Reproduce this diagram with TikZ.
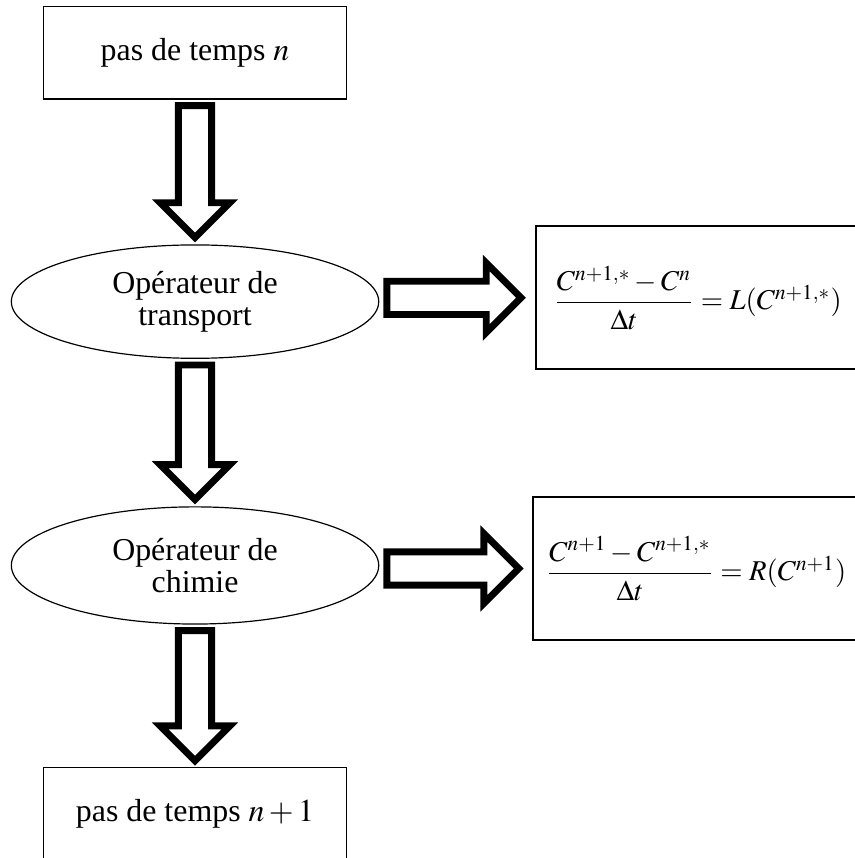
\documentclass[tikz,border=0pt]{standalone}
\usepackage{amsmath}
\usepackage{mathptmx}
\usepackage{fontspec}
\setmainfont{Liberation Serif}
\usepackage{tikz}
\usetikzlibrary{calc,shapes.geometric}

% hollow block arrow from tail #1 to tip #2
\newcommand{\hollowarrow}[2]{%
  \path (#1) coordinate (ha-s) (#2) coordinate (ha-t)
    ($(ha-t)!0.46cm!(ha-s)$) coordinate (ha-h);
  \draw[hollow] ($(ha-s)!0.22cm!90:(ha-t)$) -- ($(ha-h)!0.22cm!90:(ha-t)$)
    -- ($(ha-h)!0.46cm!90:(ha-t)$) -- (ha-t) -- ($(ha-h)!0.46cm!-90:(ha-t)$)
    -- ($(ha-h)!0.22cm!-90:(ha-t)$) -- ($(ha-s)!0.22cm!-90:(ha-t)$) -- cycle;
}

\begin{document}
\begin{tikzpicture}[font=\fontsize{12}{12}\selectfont,
  box/.style={draw,line width=0.4pt,inner sep=0pt,minimum width=4.01cm,minimum height=1.22cm},
  op/.style={draw,ellipse,line width=0.45pt,inner sep=0pt,minimum width=4.86cm,align=center},
  eqbox/.style={draw,line width=0.75pt,inner sep=0pt,minimum height=1.89cm,
    font=\fontsize{10.8}{10.8}\selectfont},
  hollow/.style={line width=2.6pt,line join=miter}]
  \clip (0,0) rectangle (11.31,-11.35);
  \node[box] (top) at (2.58,-0.70) {\raisebox{-1.5pt}{pas de temps $n$}};
  \node[op,minimum height=1.50cm] (transp) at (2.58,-3.99) {Opérateur de\\transport};
  \node[op,minimum height=1.55cm] (chim) at (2.58,-7.48) {Opérateur de\\chimie};
  \node[box] (next) at (2.58,-10.76) {pas de temps $n+1$};
  \node[eqbox,minimum width=4.27cm] (eqL) at (9.23,-3.94)
    {$\dfrac{C^{n+1,*}-C^{n}}{\Delta t}=L(C^{n+1,*})$};
  \node[eqbox,minimum width=4.33cm] (eqR) at (9.21,-7.52)
    {$\dfrac{C^{n+1}-C^{n+1,*}}{\Delta t}=R(C^{n+1})$};
  \hollowarrow{$(top.south)+(0,-0.08)$}{$(transp.north)+(0,0.09)$}
  \hollowarrow{$(transp.south)+(0,-0.08)$}{$(chim.north)+(0,0.09)$}
  \hollowarrow{$(chim.south)+(0,-0.08)$}{$(next.north)+(0,0.08)$}
  \hollowarrow{$(transp.east |- eqL.west)+(0.1,0)$}{$(eqL.west)+(-0.19,0)$}
  \hollowarrow{$(chim.east |- eqR.west)+(0.1,0)$}{$(eqR.west)+(-0.17,0)$}
\end{tikzpicture}
\end{document}
